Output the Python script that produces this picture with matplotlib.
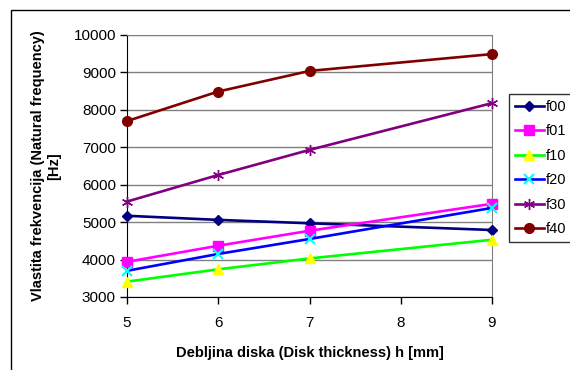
import matplotlib
matplotlib.use('Agg')
import matplotlib.pyplot as plt
from matplotlib.patches import Rectangle

# debljina diska h [mm]
thickness = [5, 6, 7, 9]

f00 = [5170, 5060, 4970, 4790]
f01 = [3940, 4370, 4770, 5490]
f10 = [3410, 3740, 4030, 4530]
f20 = [3700, 4150, 4550, 5380]
f30 = [5550, 6260, 6930, 8180]
f40 = [7700, 8490, 9040, 9490]

series_names = ['f00', 'f01', 'f10', 'f20', 'f30', 'f40']
x_ticks = [5, 6, 7, 8, 9]
y_ticks = [3000, 4000, 5000, 6000, 7000, 8000, 9000, 10000]

plt.rcParams['font.family'] = ['Liberation Sans', 'DejaVu Sans']

fig = plt.figure(figsize=(5.7, 3.7), dpi=100)
# outer chart frame (runs off the right/bottom edge like the original)
fig.patches.append(Rectangle((11/570, -0.1), 1.2, 1 - 10/370 + 0.1,
                             transform=fig.transFigure, fill=False,
                             edgecolor='black', linewidth=1.0))

ax = fig.add_axes([127/570, 1 - 297/370, 365/570, 262/370])

styles = [
    dict(color='#000080', marker='D', mfc='#000080', mec='#000080', ms=5.5),
    dict(color='#FF00FF', marker='s', mfc='#FF00FF', mec='#FF00FF', ms=6.5),
    dict(color='#00FF00', marker='^', mfc='#FFFF00', mec='#FFFF00', ms=7),
    dict(color='#0000FF', marker='x', mfc='#00FFFF', mec='#00FFFF', ms=7, mew=1.5),
    dict(color='#800080', marker=(6, 2, 0), mfc='#800080', mec='#800080', ms=8, mew=1.0),
    dict(color='#800000', marker='o', mfc='#800000', mec='#800000', ms=7),
]

for vals, name, st in zip([f00, f01, f10, f20, f30, f40], series_names, styles):
    ax.plot(thickness, vals, label=name, linewidth=1.9, clip_on=False, zorder=3, **st)

ax.set_xlim(5, 9)
ax.set_ylim(3000, 10000)
ax.set_xticks(x_ticks)
ax.set_yticks(y_ticks)
ax.yaxis.grid(True, color='#808080', linewidth=1.0)
ax.set_axisbelow(True)

for s in ['top', 'right']:
    ax.spines[s].set_color('#808080')
for s in ['left', 'bottom']:
    ax.spines[s].set_color('black')
ax.tick_params(direction='out', length=5, width=1, labelsize=11, pad=9)
ax.tick_params(axis='y', pad=3)

ax.set_xlabel('Debljina diska (Disk thickness) h [mm]', fontsize=10.5, fontweight='bold', labelpad=11)
ax.set_ylabel('Vlastita frekvencija (Natural frequency)\n[Hz]', fontsize=10.5, fontweight='bold', labelpad=9)

leg = fig.legend(loc='upper left', bbox_to_anchor=(509/570, 1 - 94/370),
                 frameon=True, fancybox=False, edgecolor='black', fontsize=10.5,
                 handlelength=2.0, handletextpad=0.1, labelspacing=0.72,
                 borderpad=0.4, borderaxespad=0)
leg.get_frame().set_linewidth(1.0)

fig.savefig('out.png', dpi=100)
